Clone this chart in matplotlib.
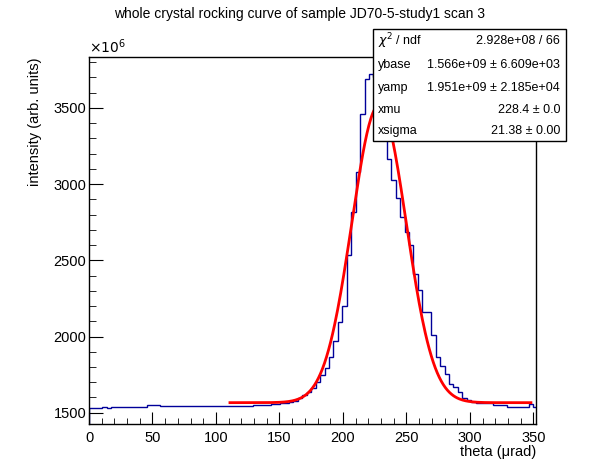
import numpy as np
import matplotlib.pyplot as plt
from matplotlib.patches import Rectangle
from matplotlib.ticker import MultipleLocator

plt.rcParams['font.family'] = ['Liberation Sans', 'DejaVu Sans']

# rocking curve histogram, 3.5 urad bins from 0, intensity in units of 1e6
bin_width = 3.5
intensity = [
    1528, 1528, 1528, 1537, 1530, 1537, 1537, 1537, 1537, 1537,
    1537, 1537, 1537, 1552, 1552, 1552, 1546, 1546, 1546, 1546,
    1546, 1546, 1546, 1546, 1546, 1546, 1546, 1546, 1546, 1546,
    1546, 1546, 1546, 1546, 1546, 1546, 1546, 1552, 1552, 1552,
    1552, 1559, 1559, 1562, 1565, 1572, 1576, 1594, 1615, 1635,
    1664, 1700, 1746, 1793, 1865, 1970, 2098, 2197, 2535, 2819,
    3077, 3459, 3687, 3720, 3705, 3560, 3370, 3164, 3027, 2907,
    2782, 2684, 2601, 2409, 2304, 2162, 2162, 2009, 1867, 1808,
    1756, 1690, 1668, 1636, 1596, 1585, 1570, 1564, 1564, 1564,
    1564, 1552, 1552, 1552, 1537, 1537, 1537, 1537, 1537, 1554,
    1537,
]

# gaussian fit results (from the stats box)
ybase = 1.566e9
yamp = 1.951e9
xmu = 228.4
xsigma = 21.38
fit_lo, fit_hi = 111, 348

stats_rows = [
    (r'$\chi^{2}$ / ndf', '2.928e+08 / 66'),
    ('ybase', '1.566e+09 ± 6.609e+03'),
    ('yamp', '1.951e+09 ± 2.185e+04'),
    ('xmu', '228.4 ± 0.0'),
    ('xsigma', '21.38 ± 0.00'),
]

W, H = 596, 472
fig = plt.figure(figsize=(W / 100, H / 100), dpi=100)
ax = fig.add_axes([89 / W, 1 - 424 / H, (536 - 89) / W, (424 - 57) / H])

edges = np.arange(len(intensity) + 1) * bin_width
ax.stairs(intensity, edges, color='#000099', lw=1)

xf = np.linspace(fit_lo, fit_hi, 300)
yf = (ybase + yamp * np.exp(-0.5 * ((xf - xmu) / xsigma) ** 2)) / 1e6
ax.plot(xf, yf, color='red', lw=2)

ax.set_xlim(0, 352)
ax.set_ylim(1426, 3834)
ax.xaxis.set_major_locator(MultipleLocator(50))
ax.xaxis.set_minor_locator(MultipleLocator(10))
ax.yaxis.set_major_locator(MultipleLocator(500))
ax.yaxis.set_minor_locator(MultipleLocator(100))
ax.tick_params(which='both', direction='in', top=False, right=False, labelsize=10.5)
ax.tick_params(axis='x', which='major', length=9, pad=5)
ax.tick_params(axis='x', which='minor', length=4.5)
ax.tick_params(axis='y', which='major', length=10, pad=2)
ax.tick_params(axis='y', which='minor', length=5)
for sp in ax.spines.values():
    sp.set_linewidth(1)

fig.text(300 / W, 1 - 14 / H, 'whole crystal rocking curve of sample JD70-5-study1 scan 3',
         ha='center', va='center', fontsize=10)
fig.text(536 / W, 1 - 452 / H, 'theta (μrad)', ha='right', va='center', fontsize=10.5)
fig.text(35 / W, 1 - 57 / H, 'intensity (arb. units)', ha='center', va='top',
         rotation=90, fontsize=10.5)
fig.text(89 / W, 1 - 47 / H, r'$\times10^{6}$', ha='left', va='center', fontsize=10)

# stats box
bx0, by0, bx1, by1 = 373, 29, 566, 141
fig.add_artist(Rectangle((bx0 / W, 1 - by1 / H), (bx1 - bx0) / W, (by1 - by0) / H,
                         transform=fig.transFigure, facecolor='white',
                         edgecolor='black', lw=1, zorder=5))
row_y = [41, 65, 88, 110, 131]
for (name, val), yy in zip(stats_rows, row_y):
    fig.text(378 / W, 1 - yy / H, name, ha='left', va='center', fontsize=9, zorder=6)
    fig.text(560 / W, 1 - yy / H, val, ha='right', va='center', fontsize=9, zorder=6)

fig.savefig('out.png', dpi=100)
